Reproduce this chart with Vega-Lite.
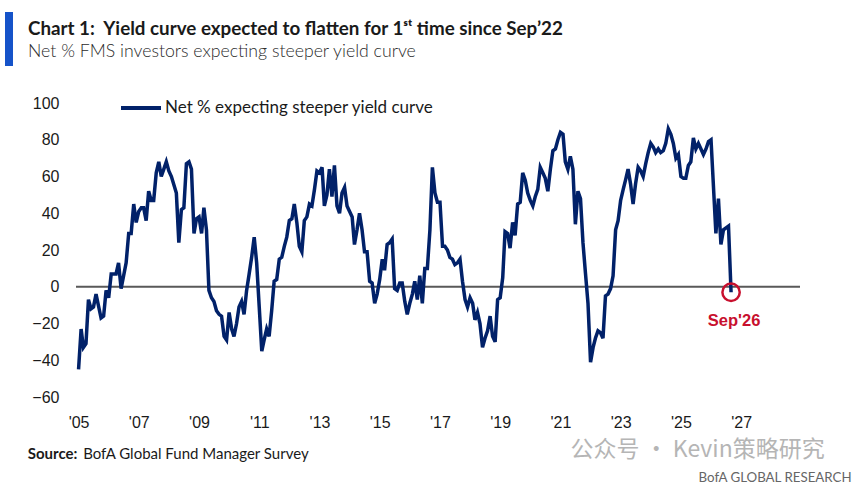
{
  "$schema": "https://vega.github.io/schema/vega-lite/v6.json",
  "width": 724,
  "height": 294,
  "autosize": {"type": "none"},
  "padding": {"left": 76, "top": 103, "right": 65, "bottom": 86},
  "background": "white",
  "title": {
    "text": "Chart 1:\u00a0 Yield curve expected to flatten for 1ˢᵗ time since Sep’22",
    "subtitle": "Net % FMS investors expecting steeper yield curve",
    "anchor": "start",
    "frame": "group",
    "orient": "top",
    "font": "Lato",
    "fontSize": 18.8,
    "fontWeight": "bold",
    "color": "#1a1a1a",
    "subtitleFont": "Lato",
    "subtitleFontSize": 17.7,
    "subtitleFontWeight": 300,
    "subtitleColor": "#2b2b2b",
    "subtitlePadding": 5,
    "dx": -48,
    "offset": -53
  },
  "config": {"view": {"stroke": null}},
  "resolve": {"axis": {"x": "independent", "y": "independent"}},
  "data": {
    "values": [
      {"d": "2005-01", "v": -45}, {"d": "2005-02", "v": -23}, {"d": "2005-03", "v": -33}, {"d": "2005-04", "v": -31},
      {"d": "2005-05", "v": -7}, {"d": "2005-06", "v": -12}, {"d": "2005-07", "v": -11}, {"d": "2005-08", "v": -4},
      {"d": "2005-10", "v": -17}, {"d": "2005-11", "v": -16}, {"d": "2005-12", "v": -2},
      {"d": "2006-01", "v": -6}, {"d": "2006-02", "v": 7}, {"d": "2006-04", "v": 7}, {"d": "2006-05", "v": 13},
      {"d": "2006-06", "v": -1}, {"d": "2006-08", "v": 13}, {"d": "2006-09", "v": 29}, {"d": "2006-10", "v": 29},
      {"d": "2006-11", "v": 45}, {"d": "2006-12", "v": 35},
      {"d": "2007-01", "v": 41}, {"d": "2007-02", "v": 43}, {"d": "2007-03", "v": 43}, {"d": "2007-04", "v": 36},
      {"d": "2007-05", "v": 52}, {"d": "2007-06", "v": 47}, {"d": "2007-07", "v": 47}, {"d": "2007-08", "v": 62},
      {"d": "2007-09", "v": 68}, {"d": "2007-10", "v": 60}, {"d": "2007-11", "v": 64}, {"d": "2007-12", "v": 68},
      {"d": "2008-01", "v": 63}, {"d": "2008-02", "v": 60}, {"d": "2008-04", "v": 51}, {"d": "2008-05", "v": 24},
      {"d": "2008-06", "v": 42}, {"d": "2008-07", "v": 43}, {"d": "2008-08", "v": 67}, {"d": "2008-09", "v": 68},
      {"d": "2008-10", "v": 64}, {"d": "2008-11", "v": 29}, {"d": "2008-12", "v": 37},
      {"d": "2009-01", "v": 38}, {"d": "2009-02", "v": 29}, {"d": "2009-03", "v": 43}, {"d": "2009-04", "v": 31},
      {"d": "2009-05", "v": -2}, {"d": "2009-06", "v": -6}, {"d": "2009-07", "v": -8}, {"d": "2009-08", "v": -13},
      {"d": "2009-09", "v": -15}, {"d": "2009-10", "v": -16}, {"d": "2009-11", "v": -27}, {"d": "2009-12", "v": -29},
      {"d": "2010-01", "v": -14}, {"d": "2010-02", "v": -23}, {"d": "2010-03", "v": -27}, {"d": "2010-04", "v": -20},
      {"d": "2010-05", "v": -11}, {"d": "2010-06", "v": -8}, {"d": "2010-07", "v": -15}, {"d": "2010-08", "v": -2},
      {"d": "2010-09", "v": 7}, {"d": "2010-10", "v": 16}, {"d": "2010-11", "v": 27}, {"d": "2010-12", "v": 13},
      {"d": "2011-01", "v": -11}, {"d": "2011-02", "v": -35}, {"d": "2011-03", "v": -29}, {"d": "2011-04", "v": -23},
      {"d": "2011-05", "v": -27}, {"d": "2011-06", "v": -13}, {"d": "2011-07", "v": 3}, {"d": "2011-08", "v": 4},
      {"d": "2011-09", "v": 15}, {"d": "2011-10", "v": 16}, {"d": "2011-11", "v": 22}, {"d": "2011-12", "v": 27},
      {"d": "2012-01", "v": 36}, {"d": "2012-02", "v": 37}, {"d": "2012-03", "v": 45}, {"d": "2012-04", "v": 35},
      {"d": "2012-05", "v": 22}, {"d": "2012-06", "v": 19}, {"d": "2012-07", "v": 36}, {"d": "2012-08", "v": 38},
      {"d": "2012-09", "v": 45}, {"d": "2012-10", "v": 44}, {"d": "2012-11", "v": 53}, {"d": "2012-12", "v": 63},
      {"d": "2013-01", "v": 62}, {"d": "2013-02", "v": 65}, {"d": "2013-03", "v": 44}, {"d": "2013-04", "v": 50},
      {"d": "2013-05", "v": 64}, {"d": "2013-06", "v": 49}, {"d": "2013-07", "v": 66}, {"d": "2013-08", "v": 44},
      {"d": "2013-09", "v": 40}, {"d": "2013-10", "v": 51}, {"d": "2013-11", "v": 54}, {"d": "2013-12", "v": 44},
      {"d": "2014-01", "v": 41}, {"d": "2014-02", "v": 38}, {"d": "2014-03", "v": 23}, {"d": "2014-04", "v": 31},
      {"d": "2014-05", "v": 40}, {"d": "2014-06", "v": 31}, {"d": "2014-07", "v": 19}, {"d": "2014-08", "v": 19},
      {"d": "2014-09", "v": 3}, {"d": "2014-10", "v": 2}, {"d": "2014-11", "v": -9}, {"d": "2014-12", "v": -4},
      {"d": "2015-01", "v": 4}, {"d": "2015-02", "v": 15}, {"d": "2015-03", "v": 9}, {"d": "2015-04", "v": 23},
      {"d": "2015-05", "v": 24}, {"d": "2015-06", "v": 26}, {"d": "2015-07", "v": -1}, {"d": "2015-08", "v": -2},
      {"d": "2015-09", "v": 2}, {"d": "2015-10", "v": 2}, {"d": "2015-11", "v": -8}, {"d": "2015-12", "v": -15},
      {"d": "2016-01", "v": -9}, {"d": "2016-02", "v": -4}, {"d": "2016-03", "v": 3}, {"d": "2016-04", "v": -7},
      {"d": "2016-05", "v": 6}, {"d": "2016-06", "v": -9}, {"d": "2016-07", "v": 10}, {"d": "2016-08", "v": 10},
      {"d": "2016-09", "v": 31}, {"d": "2016-10", "v": 65}, {"d": "2016-11", "v": 51}, {"d": "2016-12", "v": 46},
      {"d": "2017-01", "v": 46}, {"d": "2017-02", "v": 22}, {"d": "2017-03", "v": 22}, {"d": "2017-04", "v": 20},
      {"d": "2017-05", "v": 16}, {"d": "2017-06", "v": 15}, {"d": "2017-07", "v": 12}, {"d": "2017-08", "v": 13},
      {"d": "2017-09", "v": 15}, {"d": "2017-10", "v": 3}, {"d": "2017-11", "v": -7}, {"d": "2017-12", "v": -11},
      {"d": "2018-01", "v": -6}, {"d": "2018-02", "v": -9}, {"d": "2018-03", "v": -18}, {"d": "2018-04", "v": -14},
      {"d": "2018-05", "v": -20}, {"d": "2018-06", "v": -33}, {"d": "2018-07", "v": -28}, {"d": "2018-08", "v": -24},
      {"d": "2018-09", "v": -16}, {"d": "2018-10", "v": -27}, {"d": "2018-11", "v": -30}, {"d": "2018-12", "v": -7},
      {"d": "2019-01", "v": -6}, {"d": "2019-02", "v": 5}, {"d": "2019-03", "v": 30}, {"d": "2019-04", "v": 29},
      {"d": "2019-05", "v": 21}, {"d": "2019-06", "v": 35}, {"d": "2019-07", "v": 28}, {"d": "2019-08", "v": 45},
      {"d": "2019-09", "v": 46}, {"d": "2019-10", "v": 62}, {"d": "2019-11", "v": 58}, {"d": "2019-12", "v": 51},
      {"d": "2020-01", "v": 47}, {"d": "2020-02", "v": 44}, {"d": "2020-03", "v": 49}, {"d": "2020-04", "v": 53},
      {"d": "2020-05", "v": 65}, {"d": "2020-06", "v": 62}, {"d": "2020-07", "v": 59}, {"d": "2020-08", "v": 52},
      {"d": "2020-09", "v": 64}, {"d": "2020-10", "v": 74}, {"d": "2020-11", "v": 75}, {"d": "2020-12", "v": 80},
      {"d": "2021-01", "v": 84}, {"d": "2021-02", "v": 83}, {"d": "2021-03", "v": 68}, {"d": "2021-04", "v": 64},
      {"d": "2021-05", "v": 71}, {"d": "2021-06", "v": 64}, {"d": "2021-07", "v": 34}, {"d": "2021-08", "v": 52},
      {"d": "2021-09", "v": 48}, {"d": "2021-10", "v": 24}, {"d": "2021-11", "v": 7}, {"d": "2021-12", "v": -9},
      {"d": "2022-01", "v": -41}, {"d": "2022-02", "v": -33}, {"d": "2022-03", "v": -28}, {"d": "2022-04", "v": -24},
      {"d": "2022-05", "v": -25}, {"d": "2022-06", "v": -28}, {"d": "2022-07", "v": -5}, {"d": "2022-08", "v": -4},
      {"d": "2022-09", "v": -1}, {"d": "2022-10", "v": 6}, {"d": "2022-11", "v": 31}, {"d": "2022-12", "v": 36},
      {"d": "2023-01", "v": 47}, {"d": "2023-02", "v": 53}, {"d": "2023-03", "v": 58}, {"d": "2023-04", "v": 64},
      {"d": "2023-05", "v": 56}, {"d": "2023-06", "v": 45}, {"d": "2023-07", "v": 56}, {"d": "2023-08", "v": 65},
      {"d": "2023-09", "v": 63}, {"d": "2023-10", "v": 60}, {"d": "2023-11", "v": 67}, {"d": "2023-12", "v": 73},
      {"d": "2024-01", "v": 78}, {"d": "2024-02", "v": 76}, {"d": "2024-03", "v": 73}, {"d": "2024-04", "v": 75},
      {"d": "2024-05", "v": 73}, {"d": "2024-06", "v": 74}, {"d": "2024-07", "v": 78}, {"d": "2024-08", "v": 86},
      {"d": "2024-09", "v": 83}, {"d": "2024-10", "v": 78}, {"d": "2024-11", "v": 70}, {"d": "2024-12", "v": 72},
      {"d": "2025-01", "v": 60}, {"d": "2025-02", "v": 59}, {"d": "2025-03", "v": 59}, {"d": "2025-04", "v": 66},
      {"d": "2025-05", "v": 68}, {"d": "2025-06", "v": 81}, {"d": "2025-07", "v": 75}, {"d": "2025-08", "v": 78},
      {"d": "2025-09", "v": 75}, {"d": "2025-10", "v": 72}, {"d": "2025-11", "v": 75}, {"d": "2025-12", "v": 79},
      {"d": "2026-01", "v": 80}, {"d": "2026-03", "v": 29}, {"d": "2026-04", "v": 48}, {"d": "2026-05", "v": 23},
      {"d": "2026-06", "v": 31}, {"d": "2026-08", "v": 33}, {"d": "2026-09", "v": -3}
    ],
    "format": {"parse": {"d": "utc:'%Y-%m'"}}
  },
  "layer": [
    {
      "data": {"values": [{}]},
      "mark": {"type": "rule", "color": "#595959", "strokeWidth": 2},
      "encoding": {
        "y": {"datum": 0, "type": "quantitative", "scale": {"domain": [-60, 100], "nice": false, "zero": false}, "axis": null},
        "strokeDash": {
          "datum": "header bar",
          "type": "nominal",
          "scale": {"range": [[1, 0]]},
          "legend": {
            "orient": "none",
            "legendX": -98,
            "legendY": -95,
            "title": null,
            "padding": 0,
            "symbolType": "M0,-1V1",
            "symbolSize": 2916,
            "symbolStrokeWidth": 8,
            "symbolStrokeColor": "#1553c9",
            "symbolDash": [1, 0],
            "labelExpr": "''",
            "labelFontSize": 1,
            "labelOffset": 0
          }
        }
      }
    },
    {
      "mark": {"type": "line", "strokeWidth": 3.5, "interpolate": "linear"},
      "encoding": {
        "x": {
          "field": "d",
          "type": "temporal",
          "scale": {"type": "utc", "domain": [{"year": 2004, "month": 12, "date": 1, "utc": true}, {"year": 2028, "month": 12, "date": 15, "utc": true}]},
          "axis": {
            "orient": "bottom",
            "values": [
              {"year": 2005, "month": 1, "date": 1, "utc": true}, {"year": 2007, "month": 1, "date": 1, "utc": true},
              {"year": 2009, "month": 1, "date": 1, "utc": true}, {"year": 2011, "month": 1, "date": 1, "utc": true},
              {"year": 2013, "month": 1, "date": 1, "utc": true}, {"year": 2015, "month": 1, "date": 1, "utc": true},
              {"year": 2017, "month": 1, "date": 1, "utc": true}, {"year": 2019, "month": 1, "date": 1, "utc": true},
              {"year": 2021, "month": 1, "date": 1, "utc": true}, {"year": 2023, "month": 1, "date": 1, "utc": true},
              {"year": 2025, "month": 1, "date": 1, "utc": true}, {"year": 2027, "month": 1, "date": 1, "utc": true}
            ],
            "labelExpr": "\"'\" + utcFormat(datum.value, '%y')",
            "domain": false,
            "ticks": false,
            "grid": false,
            "labelFont": "Liberation Sans",
            "labelFontSize": 16,
            "labelColor": "#1a1a1a",
            "labelPadding": 17,
            "labelFlush": false,
            "labelOverlap": false,
            "title": "Source:",
            "titleFont": "Lato",
            "titleFontSize": 15,
            "titleFontWeight": "bold",
            "titleColor": "#1a1a1a",
            "titleX": -48.7,
            "titleY": 61.3,
            "titleAlign": "left",
            "titleBaseline": "alphabetic"
          }
        },
        "y": {
          "field": "v",
          "type": "quantitative",
          "scale": {"domain": [-60, 100], "nice": false, "zero": false},
          "axis": {
            "orient": "left",
            "values": [-60, -40, -20, 0, 20, 40, 60, 80, 100],
            "domain": false,
            "ticks": false,
            "grid": false,
            "labelFont": "Liberation Sans",
            "labelFontSize": 16,
            "labelColor": "#1a1a1a",
            "labelPadding": 17,
            "title": null
          }
        },
        "color": {
          "datum": "Net % expecting steeper yield curve",
          "type": "nominal",
          "scale": {"range": ["#012169"]},
          "legend": {
            "orient": "none",
            "legendX": 43,
            "legendY": -17,
            "title": null,
            "padding": 0,
            "symbolType": "stroke",
            "symbolSize": 1600,
            "symbolStrokeWidth": 4,
            "labelFont": "Lato",
            "labelFontSize": 17,
            "labelColor": "#1a1a1a",
            "labelLimit": 500,
            "labelOffset": 2
          }
        }
      }
    },
    {
      "transform": [{"filter": "utcyear(datum.d) == 2026 && utcmonth(datum.d) == 8"}],
      "mark": {"type": "point", "shape": "circle", "filled": false, "size": 300, "color": "#C8102E", "strokeWidth": 2.5, "opacity": 1},
      "encoding": {
        "x": {
          "field": "d",
          "type": "temporal",
          "axis": {
            "orient": "bottom",
            "labels": false,
            "ticks": false,
            "domain": false,
            "grid": false,
            "title": "公众号 · Kevin策略研究",
            "titleFont": "Noto Sans CJK SC",
            "titleFontSize": 23,
            "titleFontWeight": "normal",
            "titleColor": "#b5b5b5",
            "titleX": 494,
            "titleY": 59,
            "titleAlign": "left",
            "titleBaseline": "alphabetic"
          }
        },
        "y": {
          "field": "v",
          "type": "quantitative",
          "axis": {
            "orient": "right",
            "labels": false,
            "ticks": false,
            "domain": false,
            "grid": false,
            "title": "BofA GLOBAL RESEARCH",
            "titleFont": "Lato",
            "titleFontSize": 13.3,
            "titleFontWeight": "normal",
            "titleColor": "#666666",
            "titleAngle": 0,
            "titleX": -102,
            "titleY": 378,
            "titleAlign": "left",
            "titleBaseline": "alphabetic"
          }
        }
      }
    },
    {
      "transform": [{"filter": "utcyear(datum.d) == 2026 && utcmonth(datum.d) == 8"}],
      "mark": {"type": "text", "dy": 34, "dx": 3, "font": "Liberation Sans", "fontSize": 16.5, "fontWeight": "bold", "color": "#C8102E", "baseline": "alphabetic", "align": "center"},
      "encoding": {
        "x": {
          "field": "d",
          "type": "temporal",
          "axis": {
            "orient": "bottom",
            "labels": false,
            "ticks": false,
            "domain": false,
            "grid": false,
            "title": "BofA Global Fund Manager Survey",
            "titleFont": "Lato",
            "titleFontSize": 15,
            "titleFontWeight": "normal",
            "titleColor": "#1a1a1a",
            "titleX": 6.7,
            "titleY": 61.3,
            "titleAlign": "left",
            "titleBaseline": "alphabetic"
          }
        },
        "y": {"field": "v", "type": "quantitative", "axis": null},
        "text": {"value": "Sep'26"}
      }
    }
  ]
}
